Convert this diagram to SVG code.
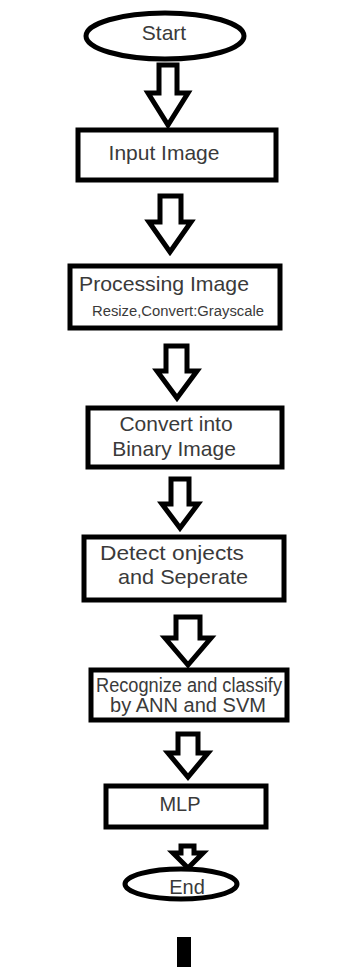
<svg xmlns="http://www.w3.org/2000/svg" width="346" height="967" viewBox="0 0 346 967">
<style>
.shape{fill:#fff;stroke:#000;stroke-width:5}
.arrow{fill:#fff;stroke:#000;stroke-width:5;stroke-linejoin:miter}
.t{font-family:"Liberation Sans",Arial,sans-serif;fill:#3a3a3a;text-anchor:middle}
</style>
<rect width="346" height="967" fill="#fff"/>
<g id="connectors">
<polygon class="arrow" points="159,65 177,65 177,93 188,93 168,125 148,93 159,93"/>
<polygon class="arrow" points="160,196 181,196 181,222 191,222 170,252 149,222 160,222"/>
<polygon class="arrow" points="166,346 187,346 187,371 197,371 177,398 157,371 166,371"/>
<polygon class="arrow" points="171,479 189,479 189,504 198,504 180,528 162,504 171,504"/>
<polygon class="arrow" points="176,617 200,617 200,638 211,638 188,665 165,638 176,638"/>
<polygon class="arrow" points="178,734 198,734 198,753 208,753 188,777 168,753 178,753"/>
<polygon class="arrow" points="181,846 194,846 194,853 203,853 188,868 173,853 181,853"/>
</g>
<g id="start">
<ellipse class="shape" cx="165" cy="36" rx="79" ry="23"/>
<text class="t" x="164" y="40" font-size="21">Start</text>
</g>
<g id="input">
<rect class="shape" x="78" y="130" width="198" height="50"/>
<text class="t" x="164" y="160" font-size="21">Input Image</text>
</g>
<g id="processing">
<rect class="shape" x="70" y="266" width="210" height="62"/>
<text class="t" x="164" y="291" font-size="21" textLength="170" lengthAdjust="spacingAndGlyphs">Processing Image</text>
<text class="t" x="178" y="316" font-size="14" textLength="172" lengthAdjust="spacingAndGlyphs">Resize,Convert:Grayscale</text>
</g>
<g id="binary">
<rect class="shape" x="88" y="408" width="194" height="59"/>
<text class="t" x="176" y="431" font-size="21">Convert into</text>
<text class="t" x="174" y="456" font-size="21">Binary Image</text>
</g>
<g id="detect">
<rect class="shape" x="84" y="537" width="200" height="63"/>
<text class="t" x="172" y="560" font-size="21" textLength="144" lengthAdjust="spacingAndGlyphs">Detect onjects</text>
<text class="t" x="183" y="584" font-size="21" textLength="130" lengthAdjust="spacingAndGlyphs">and Seperate</text>
</g>
<g id="recognize">
<rect class="shape" x="91" y="670" width="196" height="50"/>
<text class="t" x="189" y="692" font-size="20" textLength="186" lengthAdjust="spacingAndGlyphs">Recognize and classify</text>
<text class="t" x="188" y="712" font-size="20" textLength="156" lengthAdjust="spacingAndGlyphs">by ANN and SVM</text>
</g>
<g id="mlp">
<rect class="shape" x="106" y="786" width="160" height="41"/>
<text class="t" x="180" y="811" font-size="20">MLP</text>
</g>
<g id="end">
<ellipse class="shape" cx="181" cy="884" rx="56" ry="15"/>
<text class="t" x="187" y="894" font-size="20">End</text>
</g>
<rect x="177" y="937" width="14" height="30" fill="#000"/>
</svg>
